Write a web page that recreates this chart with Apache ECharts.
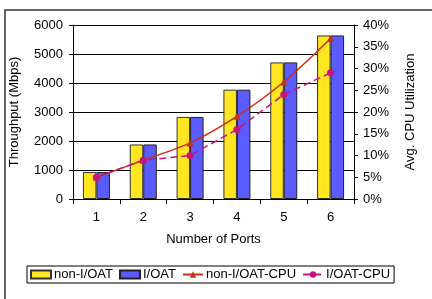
<!DOCTYPE html>
<html>
<head>
<meta charset="utf-8">
<script src="https://cdn.jsdelivr.net/npm/echarts@6/dist/echarts.min.js"></script>
<style>
  html, body { margin: 0; padding: 0; background: #fff; }
  #main { width: 432px; height: 299px; }
</style>
</head>
<body>
<div id="main"></div>
<script>
var ports = ['1', '2', '3', '4', '5', '6'];
var nonIoat = [930, 1880, 2830, 3770, 4710, 5640];
var ioat = [930, 1880, 2830, 3770, 4710, 5640];
var nonIoatCpu = [5, 8.9, 12.9, 19, 26.9, 36.9];
var ioatCpu = [5, 8.9, 10, 16, 24, 29];

var font = 'Liberation Sans, Arial, sans-serif';

var chart = echarts.init(document.getElementById('main'));
var option = {
    animation: false,
    textStyle: { fontFamily: font, color: '#000' },
    graphic: [{
        type: 'rect',
        shape: { x: 5, y: 10, width: 440, height: 300 },
        style: { fill: 'none', stroke: '#333', lineWidth: 1.5 },
        silent: true
    }],
    grid: { left: 73, right: 78, top: 25, bottom: 100 },
    legend: {
        left: 27,
        top: 266,
        itemWidth: 20,
        itemHeight: 8,
        itemGap: 6,
        padding: [2, 4, 2, 3],
        borderColor: '#000',
        borderWidth: 1,
        borderRadius: 0,
        textStyle: { fontSize: 13, color: '#000', fontFamily: font, padding: [0, 0, 0, -2] },
        data: [
            { name: 'non-I/OAT', icon: 'rect' },
            { name: 'I/OAT', icon: 'rect' },
            'non-I/OAT-CPU',
            'I/OAT-CPU'
        ]
    },
    xAxis: {
        type: 'category',
        data: ports,
        name: 'Number of Ports',
        nameLocation: 'middle',
        nameGap: 34,
        nameTextStyle: { fontSize: 13, color: '#000' },
        axisLine: { lineStyle: { color: '#000', width: 1 } },
        axisTick: { show: true, length: 5, lineStyle: { color: '#000' } },
        axisLabel: { fontSize: 13, color: '#000', margin: 12 }
    },
    yAxis: [{
        type: 'value',
        min: 0,
        max: 6000,
        interval: 1000,
        name: 'Throughput (Mbps)',
        nameLocation: 'middle',
        nameRotate: 90,
        nameGap: 52,
        nameTextStyle: { fontSize: 13, color: '#000' },
        axisLine: { show: true, lineStyle: { color: '#000' } },
        axisTick: { show: true, length: 4, lineStyle: { color: '#000' } },
        axisLabel: { fontSize: 13, color: '#000', margin: 10, formatter: function (v) { return String(v); } },
        splitLine: { lineStyle: { color: '#000', width: 1 } }
    }, {
        type: 'value',
        position: 'right',
        min: 0,
        max: 40,
        interval: 5,
        name: 'Avg. CPU Utilization',
        nameLocation: 'middle',
        nameRotate: 90,
        nameGap: 50,
        nameTextStyle: { fontSize: 13, color: '#000' },
        axisLine: { show: true, lineStyle: { color: '#000' } },
        axisTick: { show: true, length: 4, lineStyle: { color: '#000' } },
        axisLabel: { fontSize: 13, color: '#000', margin: 9, formatter: '{value}%' },
        splitLine: { show: false }
    }],
    series: [{
        name: 'non-I/OAT',
        type: 'bar',
        data: nonIoat,
        barWidth: 13.5,
        barGap: 0,
        itemStyle: { color: '#FFE620', borderColor: '#333', borderWidth: 1 }
    }, {
        name: 'I/OAT',
        type: 'bar',
        data: ioat,
        barWidth: 13.5,
        barGap: 0,
        itemStyle: { color: '#5A5CFF', borderColor: '#222', borderWidth: 1 }
    }, {
        name: 'non-I/OAT-CPU',
        type: 'line',
        yAxisIndex: 1,
        data: nonIoatCpu,
        smooth: 0.3,
        symbol: 'triangle',
        symbolSize: 7,
        lineStyle: { color: '#C8300E', width: 1.5 },
        itemStyle: { color: '#C8300E' }
    }, {
        name: 'I/OAT-CPU',
        type: 'line',
        yAxisIndex: 1,
        data: ioatCpu,
        symbol: 'circle',
        symbolSize: 7,
        lineStyle: { color: '#C8137E', width: 1.5, type: [7, 4] },
        itemStyle: { color: '#C8137E' }
    }]
};
chart.setOption(option);
</script>
</body>
</html>
